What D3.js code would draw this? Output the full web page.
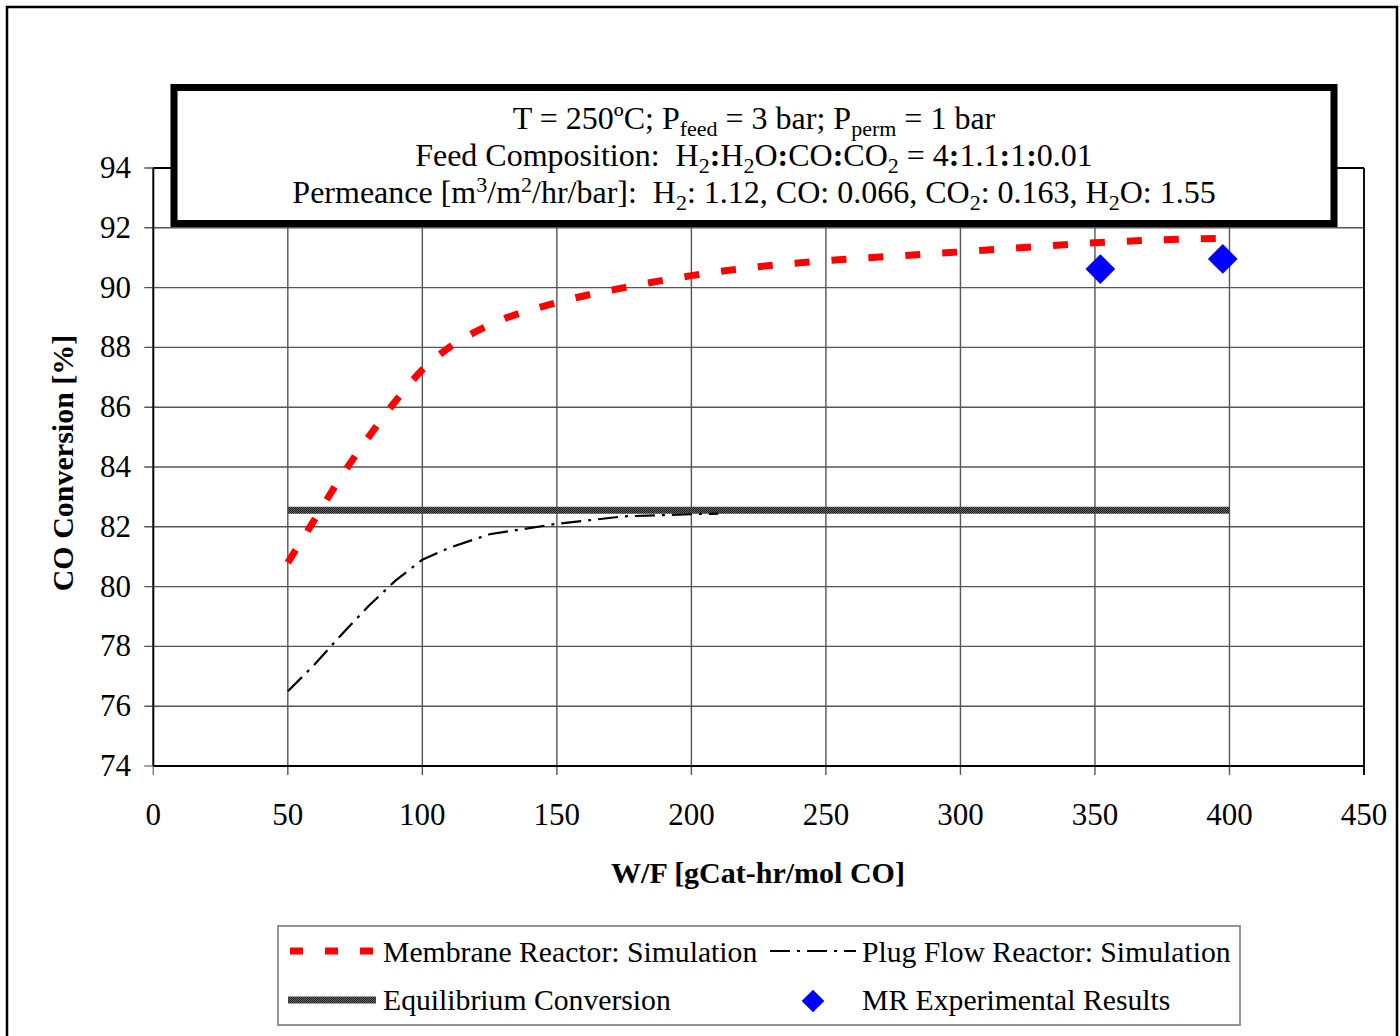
<!DOCTYPE html>
<html><head><meta charset="utf-8">
<script src="https://cdn.jsdelivr.net/npm/d3@7"></script>
<style>html,body{margin:0;padding:0;background:#fff;} svg{display:block;} text{font-family:"Liberation Serif","Times New Roman",serif;}</style>
</head><body>
<div id="chart"></div>
<script>
// ---- data ----
const mrX = [50,60,70,80,90,100,110,125,150,175,200,225,250,275,300,325,350,375,397];
const mrY = [80.8,82.25,83.7,85.0,86.2,87.25,88.0,88.75,89.5,90.0,90.4,90.7,90.9,91.05,91.2,91.35,91.5,91.6,91.65];
const pfrX = [50,60,70,80,90,100,110,125,150,175,200,210];
const pfrY = [76.5,77.4,78.4,79.35,80.2,80.9,81.3,81.75,82.1,82.35,82.42,82.44];
const eqX = [50,400];
const eqY = [82.55,82.55];
const expX = [352,397.5];
const expY = [90.62,90.96];
const xTicks = [0,50,100,150,200,250,300,350,400,450];
const yTicks = [74,76,78,80,82,84,86,88,90,92,94];
const legendLabels = ["Membrane Reactor: Simulation","Plug Flow Reactor: Simulation","Equilibrium Conversion","MR Experimental Results"];

const W=1400,H=1036;
const svg=d3.select("#chart").append("svg").attr("width",W).attr("height",H);
const x=d3.scaleLinear().domain([0,450]).range([153.3,1364]);
const y=d3.scaleLinear().domain([74,94]).range([766,168]);

// pattern for equilibrium line
const defs=svg.append("defs");
const pat=defs.append("pattern").attr("id","eqpat").attr("width",2).attr("height",2).attr("patternUnits","userSpaceOnUse");
pat.append("rect").attr("width",2).attr("height",2).attr("fill","#6a6a6a");
pat.append("rect").attr("width",1).attr("height",1).attr("fill","#1a1a1a");
pat.append("rect").attr("x",1).attr("y",1).attr("width",1).attr("height",1).attr("fill","#1a1a1a");

// outer frame
svg.append("rect").attr("x",7).attr("y",7).attr("width",1390).attr("height",1060).attr("fill","none").attr("stroke","#000").attr("stroke-width",2.5);

// gridlines
svg.append("g").selectAll("line.v").data(xTicks.slice(1)).join("line")
  .attr("x1",d=>x(d)).attr("x2",d=>x(d)).attr("y1",y(94)).attr("y2",y(74)+9)
  .attr("stroke","#555").attr("stroke-width",1.4);
svg.append("g").selectAll("line.h").data(yTicks.slice(1)).join("line")
  .attr("x1",x(0)-9).attr("x2",x(450)).attr("y1",d=>y(d)).attr("y2",d=>y(d))
  .attr("stroke","#555").attr("stroke-width",1.4);
svg.append("line").attr("x1",x(0)).attr("x2",x(0)).attr("y1",y(74)).attr("y2",y(74)+9).attr("stroke","#777").attr("stroke-width",1.4);
svg.append("line").attr("x1",x(0)-9).attr("x2",x(0)).attr("y1",y(74)).attr("y2",y(74)).attr("stroke","#777").attr("stroke-width",1.4);
// plot border
svg.append("line").attr("x1",x(0)).attr("x2",x(450)).attr("y1",y(94)).attr("y2",y(94)).attr("stroke","#000").attr("stroke-width",1.8);
svg.append("line").attr("x1",x(450)).attr("x2",x(450)).attr("y1",y(94)).attr("y2",y(74)+9).attr("stroke","#000").attr("stroke-width",1.8);
svg.append("line").attr("x1",x(0)).attr("x2",x(0)).attr("y1",y(94)).attr("y2",y(74)).attr("stroke","#000").attr("stroke-width",2);
svg.append("line").attr("x1",x(0)).attr("x2",x(450)).attr("y1",y(74)).attr("y2",y(74)).attr("stroke","#000").attr("stroke-width",2);

// tick labels
svg.append("g").selectAll("text").data(yTicks).join("text")
  .attr("x",131).attr("y",d=>y(d)+10).attr("text-anchor","end")
  .style("font-size","31px").text(d=>d);
svg.append("g").selectAll("text").data(xTicks).join("text")
  .attr("x",d=>x(d)).attr("y",825).attr("text-anchor","middle")
  .style("font-size","31px").text(d=>d);

// axis titles
svg.append("text").attr("transform","translate(73,463) rotate(-90)").attr("text-anchor","middle")
  .style("font-size","30px").style("font-weight","bold").text("CO Conversion [%]");
svg.append("text").attr("x",758).attr("y",883).attr("text-anchor","middle")
  .style("font-size","30px").style("font-weight","bold").text("W/F [gCat-hr/mol CO]");

// series
const smooth=d3.line().x(d=>x(d[0])).y(d=>y(d[1])).curve(d3.curveMonotoneX);
const straight=d3.line().x(d=>x(d[0])).y(d=>y(d[1]));
svg.append("path").attr("d",straight(eqX.map((v,i)=>[v,eqY[i]]))).attr("fill","none")
  .attr("stroke","url(#eqpat)").attr("stroke-width",7);
svg.append("path").attr("d",straight(pfrX.map((v,i)=>[v,pfrY[i]]))).attr("fill","none")
  .attr("stroke","#000").attr("stroke-width",2.2).attr("stroke-dasharray","20,7,3,7");
svg.append("path").attr("d",smooth(mrX.map((v,i)=>[v,mrY[i]]))).attr("fill","none")
  .attr("stroke","#ff0000").attr("stroke-width",7).attr("stroke-dasharray","15,22");
const diamond=d3.symbol().type(d3.symbolSquare).size(21*21);
svg.append("g").selectAll("path").data(expX.map((v,i)=>[v,expY[i]])).join("path")
  .attr("d",diamond).attr("transform",d=>`translate(${x(d[0])},${y(d[1])}) rotate(45)`).attr("fill","#0000ff");

// title box
svg.append("rect").attr("x",174).attr("y",87.5).attr("width",1160).attr("height",136).attr("fill","#fff")
  .attr("stroke","#000").attr("stroke-width",7);
const fs=32, sub=22, dn=7, up=11;
const tb=svg.append("g").style("font-size",fs+"px");
function addLine(yy, parts){
  const t=tb.append("text").attr("x",754).attr("y",yy).attr("text-anchor","middle").style("white-space","pre");
  parts.forEach(p=>{
    const s=t.append("tspan").text(p.t);
    if(p.sub){s.style("font-size",sub+"px").attr("dy",dn);}
    if(p.sup){s.style("font-size",sub+"px").attr("dy",-up);}
    if(p.back){s.attr("dy",p.back);}
    if(p.b){s.style("font-weight","bold");}
  });
}
addLine(129,[{t:"T = 250ºC; P"},{t:"feed",sub:1},{t:" = 3 bar; P",back:-dn},{t:"perm",sub:1},{t:" = 1 bar",back:-dn}]);
addLine(166,[{t:"Feed Composition:  H"},{t:"2",sub:1},{t:":",b:1,back:-dn},{t:"H"},{t:"2",sub:1},{t:"O",back:-dn},{t:":",b:1},{t:"CO"},{t:":",b:1},{t:"CO"},{t:"2",sub:1},{t:" = 4",back:-dn},{t:":",b:1},{t:"1.1"},{t:":",b:1},{t:"1"},{t:":",b:1},{t:"0.01"}]);
addLine(203,[{t:"Permeance [m"},{t:"3",sup:1},{t:"/m",back:up},{t:"2",sup:1},{t:"/hr/bar]:  H",back:up},{t:"2",sub:1},{t:": 1.12, CO: 0.066, CO",back:-dn},{t:"2",sub:1},{t:": 0.163, H",back:-dn},{t:"2",sub:1},{t:"O: 1.55",back:-dn}]);

// legend
svg.append("rect").attr("x",278).attr("y",926).attr("width",962).attr("height",99).attr("fill","#fff")
  .attr("stroke","#888").attr("stroke-width",1.8);
const lg=svg.append("g").style("font-size","29.7px");
lg.append("line").attr("x1",290).attr("x2",376).attr("y1",951).attr("y2",951).attr("stroke","#ff0000").attr("stroke-width",7).attr("stroke-dasharray","13,22");
lg.append("text").attr("x",383).attr("y",962).text(legendLabels[0]);
lg.append("line").attr("x1",770).attr("x2",856).attr("y1",951).attr("y2",951).attr("stroke","#000").attr("stroke-width",2.2).attr("stroke-dasharray","20,7,3,7");
lg.append("text").attr("x",862).attr("y",962).text(legendLabels[1]);
lg.append("line").attr("x1",288).attr("x2",376).attr("y1",1000).attr("y2",1000).attr("stroke","url(#eqpat)").attr("stroke-width",7);
lg.append("text").attr("x",383).attr("y",1010).text(legendLabels[2]);
lg.append("path").attr("d",d3.symbol().type(d3.symbolSquare).size(16*16)).attr("transform","translate(813,1001) rotate(45)").attr("fill","#0000ff");
lg.append("text").attr("x",862).attr("y",1010).text(legendLabels[3]);
</script>
</body></html>
